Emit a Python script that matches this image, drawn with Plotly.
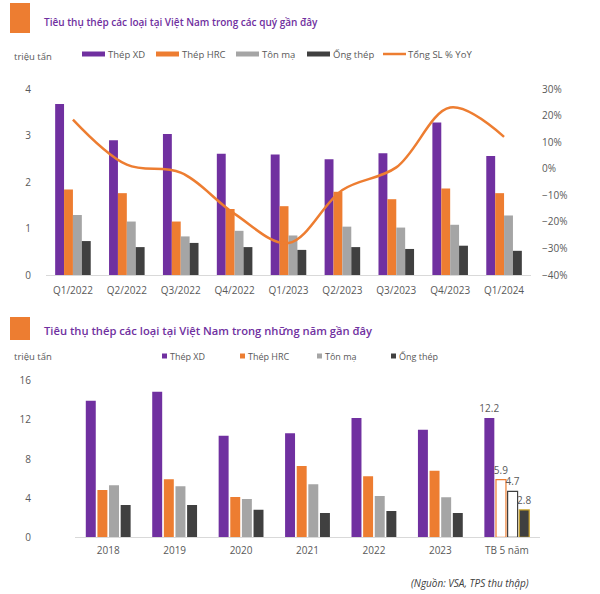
import plotly.graph_objects as go

W, H = 600, 594

# ---------------- data ----------------
quarters = ["Q1/2022", "Q2/2022", "Q3/2022", "Q4/2022", "Q1/2023",
            "Q2/2023", "Q3/2023", "Q4/2023", "Q1/2024"]
q_thep_xd = [3.68, 2.90, 3.03, 2.61, 2.59, 2.49, 2.62, 3.28, 2.56]
q_thep_hrc = [1.84, 1.76, 1.15, 1.42, 1.48, 1.79, 1.63, 1.86, 1.76]
q_ton_ma = [1.29, 1.15, 0.83, 0.95, 0.85, 1.04, 1.02, 1.08, 1.28]
q_ong_thep = [0.73, 0.60, 0.69, 0.60, 0.54, 0.60, 0.56, 0.63, 0.52]
q_yoy = [18.5, 1.5, -1.5, -17.0, -28.0, -8.0, 0.5, 23.0, 12.0]

years = ["2018", "2019", "2020", "2021", "2022", "2023", "TB 5 năm"]
y_thep_xd = [13.95, 14.87, 10.38, 10.62, 12.19, 10.99, 12.2]
y_thep_hrc = [4.83, 5.92, 4.12, 7.28, 6.23, 6.80, 5.9]
y_ton_ma = [5.31, 5.21, 3.91, 5.41, 4.22, 4.08, 4.7]
y_ong_thep = [3.30, 3.30, 2.82, 2.48, 2.69, 2.48, 2.8]

series_names = ["Thép XD", "Thép HRC", "Tôn mạ", "Ống thép"]
line_name = "Tổng SL % YoY"
title_top = "Tiêu thụ thép các loại tại Việt Nam trong các quý gần đây"
title_bottom = "Tiêu thụ thép các loại tại Việt Nam trong những năm gần đây"
unit_label = "triệu tấn"
source_note = "(Nguồn: VSA, TPS thu thập)"

# ---------------- style ----------------
PURPLE = "#7030A0"
ORANGE = "#ED7D31"
GRAY = "#A5A5A5"
DARK = "#404040"
colors = [PURPLE, ORANGE, GRAY, DARK]
TXT = "#595959"
FONT = "Open Sans"


def px(x):
    return x / W


def py(y):
    return 1 - y / H


fig = go.Figure()

# ---- top chart bars ----
top_series = [q_thep_xd, q_thep_hrc, q_ton_ma, q_ong_thep]
bw = 0.165
for i, (name, vals) in enumerate(zip(series_names, top_series)):
    fig.add_trace(go.Bar(
        x=quarters, y=vals, name=name, marker_color=colors[i],
        marker_line_width=0, width=bw, offset=-2 * bw + i * bw,
        xaxis="x", yaxis="y", showlegend=False))

fig.add_trace(go.Scatter(
    x=quarters, y=q_yoy, name=line_name, mode="lines",
    line=dict(color=ORANGE, width=2.5, shape="spline", smoothing=1.0),
    xaxis="x", yaxis="y2", showlegend=False))

# ---- bottom chart bars ----
bot_series = [y_thep_xd, y_thep_hrc, y_ton_ma, y_ong_thep]
n = len(years)
slot = 0.175
bw2 = 0.15
fills = [
    [PURPLE] * n,
    [ORANGE] * (n - 1) + ["white"],
    [GRAY] * (n - 1) + ["white"],
    [DARK] * n,
]
lines = [
    [PURPLE] * n,
    [ORANGE] * n,
    [GRAY] * (n - 1) + [DARK],
    [DARK] * (n - 1) + ["#C9A227"],
]
lw = [
    [0] * n,
    [0] * (n - 1) + [1.2],
    [0] * (n - 1) + [1.2],
    [0] * (n - 1) + [1.2],
]
for i, (name, vals) in enumerate(zip(series_names, bot_series)):
    labels = [""] * (n - 1) + [f"{vals[-1]:.1f}"]
    fig.add_trace(go.Bar(
        x=years, y=vals, name=name,
        marker=dict(color=fills[i], line=dict(color=lines[i], width=lw[i])),
        width=bw2, offset=-2 * slot + i * slot + (slot - bw2) / 2,
        text=labels, textposition="outside", cliponaxis=False,
        constraintext="none",
        textfont=dict(family=FONT, size=10, color=TXT),
        xaxis="x3", yaxis="y3", showlegend=False))

axis_font = dict(family=FONT, size=10, color=TXT)

fig.update_layout(
    width=W, height=H,
    margin=dict(l=0, r=0, t=0, b=0, autoexpand=False),
    paper_bgcolor="white", plot_bgcolor="white",
    font=dict(family=FONT, color=TXT),
    barmode="overlay",
    xaxis=dict(domain=[px(46), px(531)], anchor="y", type="category",
               categoryorder="array", categoryarray=quarters,
               showline=True, linecolor="#D9D9D9", linewidth=1,
               showgrid=False, ticks="", tickfont=axis_font,
               ticklabelstandoff=6, automargin=False),
    yaxis=dict(domain=[py(275), py(89)], range=[0, 4], dtick=1,
               showgrid=False, zeroline=False, showline=False,
               tickfont=axis_font, ticklabelstandoff=14, automargin=False),
    yaxis2=dict(overlaying="y", side="right", anchor="x",
                range=[-40, 30], dtick=10, ticksuffix="%",
                showgrid=False, zeroline=False, showline=False,
                tickfont=axis_font, ticklabelstandoff=10, automargin=False),
    xaxis3=dict(domain=[px(75), px(540)], anchor="y3", type="category",
                categoryorder="array", categoryarray=years,
                showline=True, linecolor="#D9D9D9", linewidth=1,
                showgrid=False, ticks="", tickfont=axis_font,
                ticklabelstandoff=4, automargin=False),
    yaxis3=dict(domain=[py(537.3), py(380.7)], range=[0, 16], dtick=4,
                showgrid=False, zeroline=False, showline=False,
                tickfont=axis_font, ticklabelstandoff=14, automargin=False),
)

shapes = []
annotations = []

# ---- section headers ----
for (y0, y1, ty, txt, fs) in [(3, 33, 22, title_top, 10),
                              (317, 340, 330, title_bottom, 11.2)]:
    shapes.append(dict(type="rect", xref="paper", yref="paper",
                       x0=px(10), x1=px(30), y0=py(y1), y1=py(y0),
                       fillcolor=ORANGE, line_width=0))
    annotations.append(dict(text=txt, xref="paper", yref="paper",
                            x=px(42), y=py(ty), xanchor="left", yanchor="middle",
                            showarrow=False,
                            font=dict(family=FONT, size=fs, color=PURPLE, weight=600)))

# unit labels
for uy in [56, 356]:
    annotations.append(dict(text=unit_label, xref="paper", yref="paper",
                            x=px(12), y=py(uy), xanchor="left", yanchor="middle",
                            showarrow=False, font=dict(family=FONT, size=9.5, color=TXT)))

# ---- top legend (wide swatches) ----
top_leg_x = [82, 156, 236, 307]
for i, name in enumerate(series_names):
    x0 = top_leg_x[i]
    shapes.append(dict(type="rect", xref="paper", yref="paper",
                       x0=px(x0), x1=px(x0 + 23), y0=py(56.5), y1=py(51.5),
                       fillcolor=colors[i], line_width=0))
    annotations.append(dict(text=name, xref="paper", yref="paper",
                            x=px(x0 + 24), y=py(54), xanchor="left", yanchor="middle",
                            showarrow=False, font=dict(family=FONT, size=9.5, color=TXT)))
shapes.append(dict(type="line", xref="paper", yref="paper",
                   x0=px(383), x1=px(406), y0=py(54), y1=py(54),
                   line=dict(color=ORANGE, width=2.5)))
annotations.append(dict(text=line_name, xref="paper", yref="paper",
                        x=px(406), y=py(54), xanchor="left", yanchor="middle",
                        showarrow=False, font=dict(family=FONT, size=9.5, color=TXT)))

# ---- bottom legend (small squares) ----
bot_leg_x = [162, 240, 317, 391]
for i, name in enumerate(series_names):
    x0 = bot_leg_x[i]
    shapes.append(dict(type="rect", xref="paper", yref="paper",
                       x0=px(x0), x1=px(x0 + 5), y0=py(358.5), y1=py(353.5),
                       fillcolor=colors[i], line_width=0))
    annotations.append(dict(text=name, xref="paper", yref="paper",
                            x=px(x0 + 6), y=py(356), xanchor="left", yanchor="middle",
                            showarrow=False, font=dict(family=FONT, size=9, color=TXT)))

# source note
annotations.append(dict(text=f"<i>{source_note}</i>", xref="paper", yref="paper",
                        x=px(531), y=py(583), xanchor="right", yanchor="middle",
                        showarrow=False, font=dict(family=FONT, size=10, color="#404040")))

fig.update_layout(shapes=shapes, annotations=annotations)

fig.write_html("out.html",
               config={"displayModeBar": False},
               post_script="document.body.style.margin='0';document.body.style.padding='0';")
